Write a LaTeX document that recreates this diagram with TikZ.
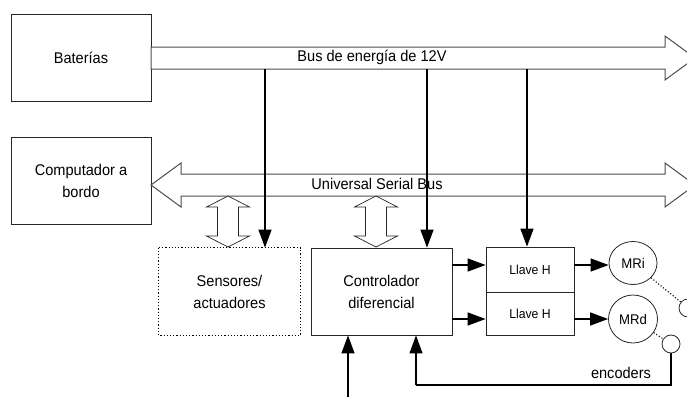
\documentclass[tikz,border=0pt]{standalone}
\usepackage{fontspec}
\setmainfont[FakeStretch=0.94]{Liberation Sans}
\usetikzlibrary{arrows.meta,shapes.geometric}
\begin{document}
\begin{tikzpicture}[x=1pt,y=-1pt,
  txt/.style={font=\fontsize{15.5}{22}\selectfont},
  box/.style={draw=black!85, line width=0.8pt, minimum width=141pt, minimum height=87pt,
    align=center, inner sep=0pt, txt},
  hbox/.style={draw=black!85, line width=0.8pt, minimum width=88pt, inner sep=0pt,
    font=\fontsize{13}{15}\selectfont},
  motor/.style={draw=black!85, line width=0.8pt, ellipse, inner sep=0pt,
    font=\fontsize{14}{16}\selectfont},
  enc/.style={draw=black!85, line width=0.8pt, circle, minimum size=18pt, inner sep=0pt, fill=white},
  bus/.style={draw=black!70, line width=1pt, fill=white, line join=miter},
  hollow/.style={draw=black!85, line width=0.7pt, fill=white},
  arr/.style={line width=1.4pt, -{Triangle[length=18pt,width=13pt]}},
  dots/.style={line width=1.1pt, dotted},
  pics/updown/.style={code={
    \draw[hollow] (0,0) -- (21.5,11) -- (10.5,11) -- (10.5,40) -- (21.5,40) -- (0,51)
      -- (-21.5,40) -- (-10.5,40) -- (-10.5,11) -- (-21.5,11) -- cycle;}}
]
\useasboundingbox (0,0) rectangle (687,397);
\clip (0,0) rectangle (687,397);

% blocks
\node[box, minimum width=140pt] (bat) at (81,57.5) {Baterías};
\node[box, minimum width=140pt] (pc) at (81,180.5) {Computador a\\bordo};
\node[box, draw=none] (sens) at (229.5,291.5) {Sensores/\\actuadores};
\draw[dotted, line width=1.2pt] (sens.north west) rectangle (sens.south east);
\node[box] (ctrl) at (381.5,291.5) {Controlador\\diferencial};
\node[hbox, minimum height=45pt] (h1) at (530,269.5) {Llave H};
\node[hbox, minimum height=43pt] (h2) at (530,313.5) {Llave H};
\node[motor, minimum width=48pt, minimum height=43pt] (mri) at (633,263) {MRi};
\node[motor, minimum width=49pt, minimum height=48pt] (mrd) at (633,319) {MRd};
\node[enc] (e1) at (688,308) {};
\node[enc] (e2) at (671,344) {};

% buses
\draw[bus] (151,47) -- (665,47) -- (665,36) -- (695,58) -- (665,80) -- (665,69) -- (151,69) -- cycle;
\node[txt] at (372,57) {Bus de energía de 12V};
\draw[bus] (151,185) -- (181,163) -- (181,174) -- (665,174) -- (665,163) -- (695,185)
  -- (665,207) -- (665,196) -- (181,196) -- (181,207) -- cycle;
\node[txt] at (377,184) {Universal Serial Bus};

% USB links
\pic at (228,196) {updown};
\pic at (376,196) {updown};

% power taps
\coordinate (p1) at (265,69);
\coordinate (p2) at (427,69);
\coordinate (p3) at (527,69);
\draw[arr] (p1) -- (p1 |- sens.north);
\draw[arr] (p2) -- (p2 |- ctrl.north);
\draw[arr] (p3) -- (p3 |- h1.north);

% controller to H bridges to motors
\draw[arr] (ctrl.east |- 0,265) -- (h1.west |- 0,265);
\draw[arr] (ctrl.east |- mrd.west) -- (h2.west |- mrd.west);
\draw[arr] (h1.east |- 0,265) -- (mri.west |- 0,265);
\draw[arr] (h2.east |- mrd.west) -- (mrd.west);

% encoders
\draw[dots] (mri) -- (e1);
\draw[dots] (mrd) -- (e2);
\coordinate (fb) at (416,385);
\draw[line width=1.1pt] (e2.south) |- (fb);
\draw[arr, line width=1.1pt] (fb) -- (fb |- ctrl.south);
\node[txt] at (621,373) {encoders};

% external input
\coordinate (in) at (348,397);
\draw[arr] (in) -- (in |- ctrl.south);
\end{tikzpicture}
\end{document}
